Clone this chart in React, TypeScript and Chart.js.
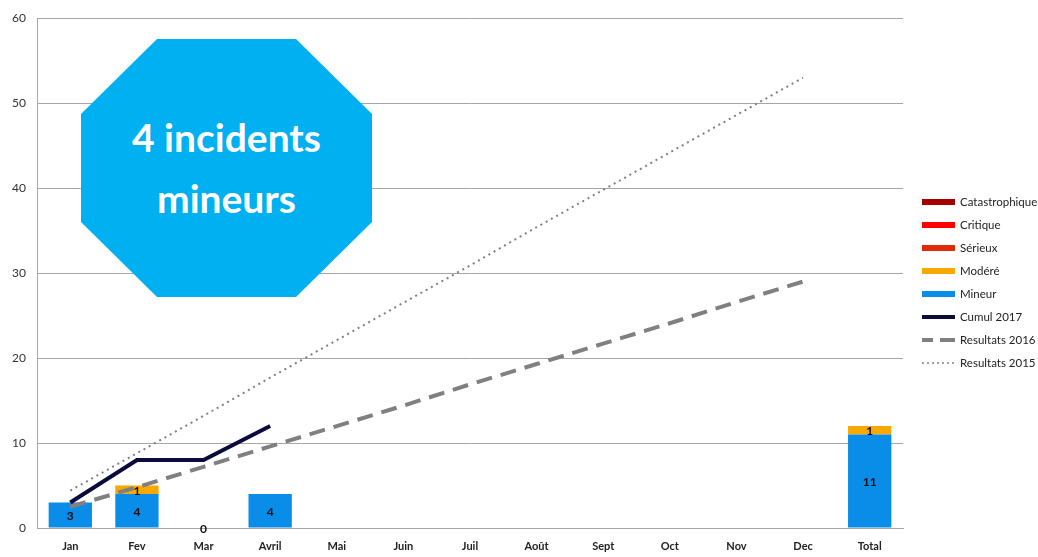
import React, { useEffect, useRef } from "react";
import { Chart, registerables } from "chart.js";

Chart.register(...registerables);

const categories = ["Jan", "Fev", "Mar", "Avril", "Mai", "Juin", "Juil", "Août", "Sept", "Oct", "Nov", "Dec", "Total"];
const catastrophique: (number | null)[] = [null, null, null, null, null, null, null, null, null, null, null, null, null];
const critique: (number | null)[] = [null, null, null, null, null, null, null, null, null, null, null, null, null];
const serieux: (number | null)[] = [null, null, null, null, null, null, null, null, null, null, null, null, null];
const modere: (number | null)[] = [null, 1, null, null, null, null, null, null, null, null, null, null, 1];
const mineur: (number | null)[] = [3, 4, 0, 4, null, null, null, null, null, null, null, null, 11];
const cumul2017: (number | null)[] = [3, 8, 8, 12, null, null, null, null, null, null, null, null, null];
const resultats2016: (number | null)[] = [2.5, 4.8, 7.2, 9.6, 12.0, 14.4, 16.9, 19.3, 21.7, 24.1, 26.6, 29, null];
const resultats2015: (number | null)[] = [4.4, 8.8, 13.2, 17.7, 22.1, 26.5, 30.9, 35.4, 39.8, 44.2, 48.6, 53, null];
const yMin = 0;
const yMax = 60;
const yStep = 10;
const badgeLines = ["4 incidents", "mineurs"];

const FONT = "Lato, 'Open Sans', sans-serif";

type LegendEntry = { label: string; kind: "bar" | "solid" | "dash" | "dot"; color: string };

const legendEntries: LegendEntry[] = [
  { label: "Catastrophique", kind: "bar", color: "#a50000" },
  { label: "Critique", kind: "bar", color: "#ff0000" },
  { label: "Sérieux", kind: "bar", color: "#e02a0a" },
  { label: "Modéré", kind: "bar", color: "#f8a800" },
  { label: "Mineur", kind: "bar", color: "#0a8de8" },
  { label: "Cumul 2017", kind: "solid", color: "#0b0b3d" },
  { label: "Resultats 2016", kind: "dash", color: "#808080" },
  { label: "Resultats 2015", kind: "dot", color: "#808080" },
];

const colorOf = (label: string) => legendEntries.find((e) => e.label === label)!.color;

const barLabelPlugin = {
  id: "barLabels",
  afterDatasetsDraw(chart: any) {
    const ctx = chart.ctx;
    ctx.save();
    ctx.font = `normal bold 12px ${FONT}`;
    ctx.fillStyle = "#111";
    ctx.textAlign = "center";
    ctx.textBaseline = "middle";
    chart.data.datasets.forEach((ds: any, i: number) => {
      if (ds.type !== "bar") return;
      const meta = chart.getDatasetMeta(i);
      meta.data.forEach((el: any, j: number) => {
        const v = ds.data[j];
        if (v === null || v === undefined) return;
        const y = (el.y + el.base) / 2;
        ctx.fillText(String(v), el.x, y + 1);
      });
    });
    ctx.restore();
  },
};

function LegendSwatch({ e }: { e: LegendEntry }) {
  if (e.kind === "bar") {
    return <div style={{ width: 33, height: 6, background: e.color }} />;
  }
  const props: any = { x1: 0, y1: 4, x2: 33, y2: 4, stroke: e.color };
  if (e.kind === "solid") props.strokeWidth = 4;
  if (e.kind === "dash") {
    props.strokeWidth = 4;
    props.strokeDasharray = "11 7 15 0";
  }
  if (e.kind === "dot") {
    props.strokeWidth = 1.5;
    props.strokeDasharray = "2 3";
  }
  return (
    <svg width={33} height={8} style={{ display: "block" }}>
      <line {...props} />
    </svg>
  );
}

export default function App() {
  const canvasRef = useRef<HTMLCanvasElement | null>(null);

  useEffect(() => {
    const canvas = canvasRef.current;
    if (!canvas) return;
    const chart = new Chart(canvas, {
      type: "bar",
      data: {
        labels: categories,
        datasets: [
          { type: "line", label: "Cumul 2017", data: cumul2017, borderColor: colorOf("Cumul 2017"), borderWidth: 4, pointRadius: 0, fill: false, stack: "c17", order: 0, tension: 0 } as any,
          { type: "line", label: "Resultats 2016", data: resultats2016, borderColor: colorOf("Resultats 2016"), borderWidth: 4, borderDash: [16, 9], pointRadius: 0, fill: false, stack: "r16", order: 0 } as any,
          { type: "line", label: "Resultats 2015", data: resultats2015, borderColor: colorOf("Resultats 2015"), borderWidth: 2, borderDash: [2, 4], pointRadius: 0, fill: false, stack: "r15", order: 0 } as any,
          { type: "bar", label: "Mineur", data: mineur, backgroundColor: colorOf("Mineur"), stack: "bars", order: 1 },
          { type: "bar", label: "Modéré", data: modere, backgroundColor: colorOf("Modéré"), stack: "bars", order: 1 },
          { type: "bar", label: "Sérieux", data: serieux, backgroundColor: colorOf("Sérieux"), stack: "bars", order: 1 },
          { type: "bar", label: "Critique", data: critique, backgroundColor: colorOf("Critique"), stack: "bars", order: 1 },
          { type: "bar", label: "Catastrophique", data: catastrophique, backgroundColor: colorOf("Catastrophique"), stack: "bars", order: 1 },
        ],
      },
      options: {
        animation: false,
        responsive: true,
        maintainAspectRatio: false,
        devicePixelRatio: 1,
        layout: { padding: { left: 0, right: 135, top: 18, bottom: 0 } },
        datasets: { bar: { barPercentage: 0.65, categoryPercentage: 1 } } as any,
        plugins: { legend: { display: false }, tooltip: { enabled: false } },
        scales: {
          x: {
            stacked: true,
            grid: { display: false, drawTicks: false },
            border: { display: true, color: "#a6a6a6", width: 1 },
            ticks: { color: "#222", font: { family: FONT, size: 11, weight: "bold" }, padding: 12 },
            afterFit: (s: any) => {
              s.height = 29;
            },
          } as any,
          y: {
            stacked: true,
            min: yMin,
            max: yMax,
            ticks: { stepSize: yStep, color: "#333", font: { family: FONT, size: 12 }, padding: 11 },
            grid: { color: "#a6a6a6", lineWidth: 1, drawTicks: false },
            border: { display: true, color: "#a6a6a6", width: 1 },
            afterFit: (s: any) => {
              s.width = 37;
            },
          } as any,
        },
      },
      plugins: [barLabelPlugin],
    });
    return () => chart.destroy();
  }, []);

  return (
    <div style={{ position: "fixed", left: 0, top: 0, width: 1038, height: 557, background: "#fff", fontFamily: FONT }}>
      <canvas ref={canvasRef} style={{ position: "absolute", left: 0, top: 0 }} />
      <div
        style={{
          position: "absolute",
          left: 81,
          top: 39,
          width: 291,
          height: 258,
          background: "#00b0f0",
          clipPath: "polygon(76px 0, 215px 0, 291px 75px, 291px 183px, 215px 258px, 76px 258px, 0 183px, 0 75px)",
          display: "flex",
          flexDirection: "column",
          alignItems: "center",
          justifyContent: "center",
          color: "#fff",
          fontWeight: "bold",
          fontSize: 39,
          lineHeight: "61px",
        }}
      >
        {badgeLines.map((l) => (
          <div key={l}>{l}</div>
        ))}
      </div>
      <div style={{ position: "absolute", left: 922, top: 190 }}>
        {legendEntries.map((e) => (
          <div key={e.label} style={{ display: "flex", alignItems: "center", height: 23, fontSize: 11.5, color: "#222" }}>
            <div style={{ width: 38 }}>
              <LegendSwatch e={e} />
            </div>
            <span style={{ whiteSpace: "nowrap" }}>{e.label}</span>
          </div>
        ))}
      </div>
    </div>
  );
}
